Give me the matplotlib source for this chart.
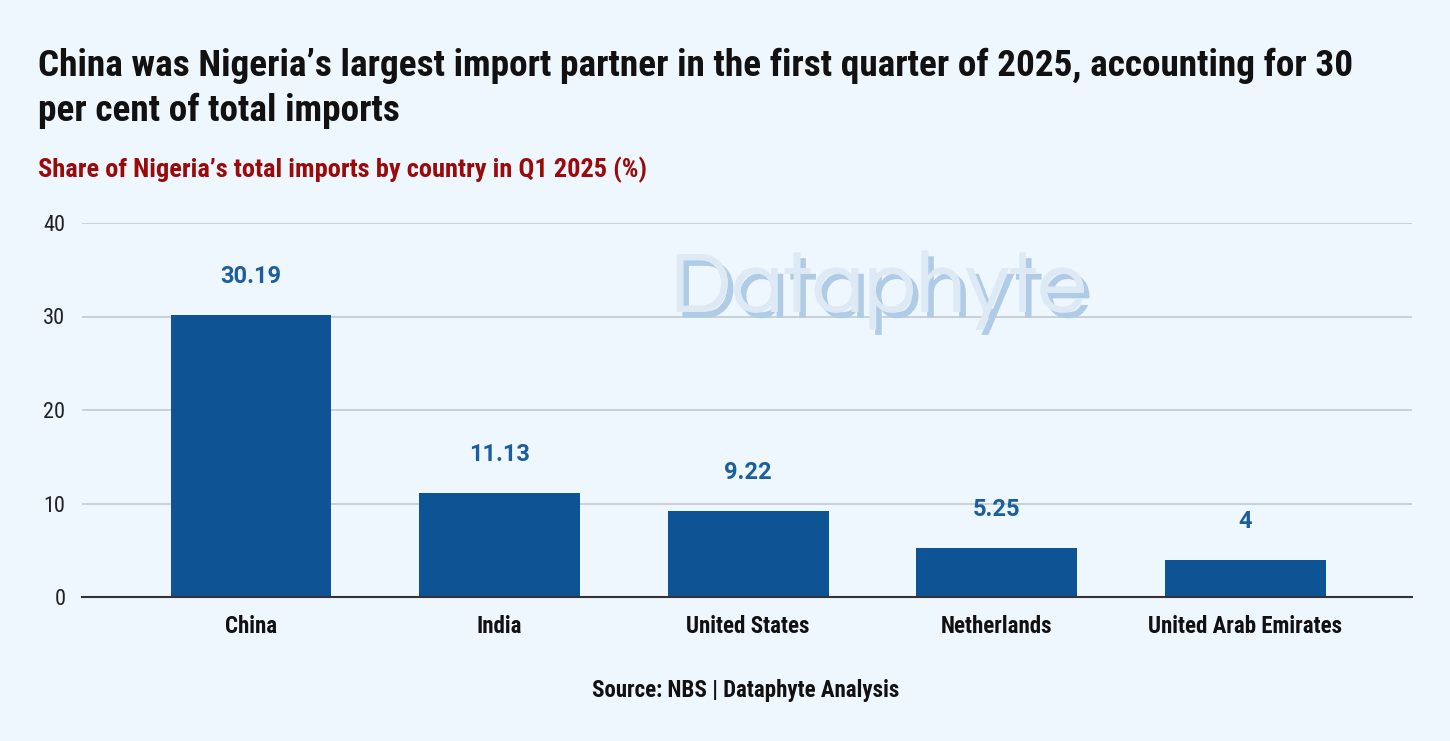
import matplotlib
matplotlib.use("Agg")
import matplotlib.pyplot as plt
import matplotlib.patheffects as pe

countries = ["China", "India", "United States", "Netherlands", "United Arab Emirates"]
shares = [30.19, 11.13, 9.22, 5.25, 4]
value_labels = ["30.19", "11.13", "9.22", "5.25", "4"]
yticks = [0, 10, 20, 30, 40]

BG = "#EEF6FE"
BAR = "#0E5394"
LBL = "#1B5E9E"
NARROW = ["Roboto Condensed", "Arimo", "Roboto", "DejaVu Sans"]

fig = plt.figure(figsize=(14.5, 7.41), dpi=100, facecolor=BG)
ax = fig.add_axes([82/1450, 1-597/741, (1412-82)/1450, (597-223)/741])
ax.set_facecolor(BG)

x = list(range(len(countries)))
bars = ax.bar(x, shares, width=0.647, color=BAR, zorder=3)

ax.set_xlim(-0.68, 4.67)
ax.set_ylim(0, 40)
ax.set_yticks(yticks)
ax.set_yticklabels([str(t) for t in yticks], family=NARROW, fontsize=16, color="#222222")
ax.set_xticks(x)
ax.set_xticklabels(countries, family=NARROW, fontsize=16.5, fontweight="bold", color="#111111")
ax.tick_params(axis="both", length=0)
ax.tick_params(axis="y", pad=12)
ax.tick_params(axis="x", pad=13)
ax.grid(axis="y", color="#C4CCD4", linewidth=1.3, zorder=0)
for s in ["top", "right", "left"]:
    ax.spines[s].set_visible(False)
ax.spines["bottom"].set_color("#333333")
ax.spines["bottom"].set_linewidth(1.5)
ax.spines["bottom"].set_zorder(4)

for xi, v, lab in zip(x, shares, value_labels):
    ax.annotate(lab, (xi, v), xytext=(0, 27.5), textcoords="offset points",
                ha="center", va="center", fontsize=17, fontweight="bold",
                color=LBL, family=["Roboto", "DejaVu Sans"], zorder=5)

# watermark
fig.text(878/1450, 1-290/741, "Dataphyte", ha="center", va="center",
         fontsize=63, color="#DDE9F5", family=["Questrial", "Didact Gothic", "Poppins", "Lato", "DejaVu Sans"],
         path_effects=[pe.withSimplePatchShadow(offset=(4, -4), shadow_rgbFace="#AFCBE6", alpha=1.0),
                       pe.Normal()], zorder=10)

fig.text(38/1450, 1-66/741, "China was Nigeria\u2019s largest import partner in the first quarter of 2025, accounting for 30",
         ha="left", va="center", fontsize=26.8, fontweight="bold", family=NARROW, color="#111111")
fig.text(38/1450, 1-111/741, "per cent of total imports",
         ha="left", va="center", fontsize=26.8, fontweight="bold", family=NARROW, color="#111111")
fig.text(38/1450, 1-170/741, "Share of Nigeria\u2019s total imports by country in Q1 2025 (%)",
         ha="left", va="center", fontsize=19, fontweight="bold", family=NARROW, color="#9B0A0A")
fig.text(746/1450, 1-690/741, "Source: NBS | Dataphyte Analysis",
         ha="center", va="center", fontsize=16.5, fontweight="bold", family=NARROW, color="#111111")

fig.savefig("out.png", dpi=100, facecolor=BG)
